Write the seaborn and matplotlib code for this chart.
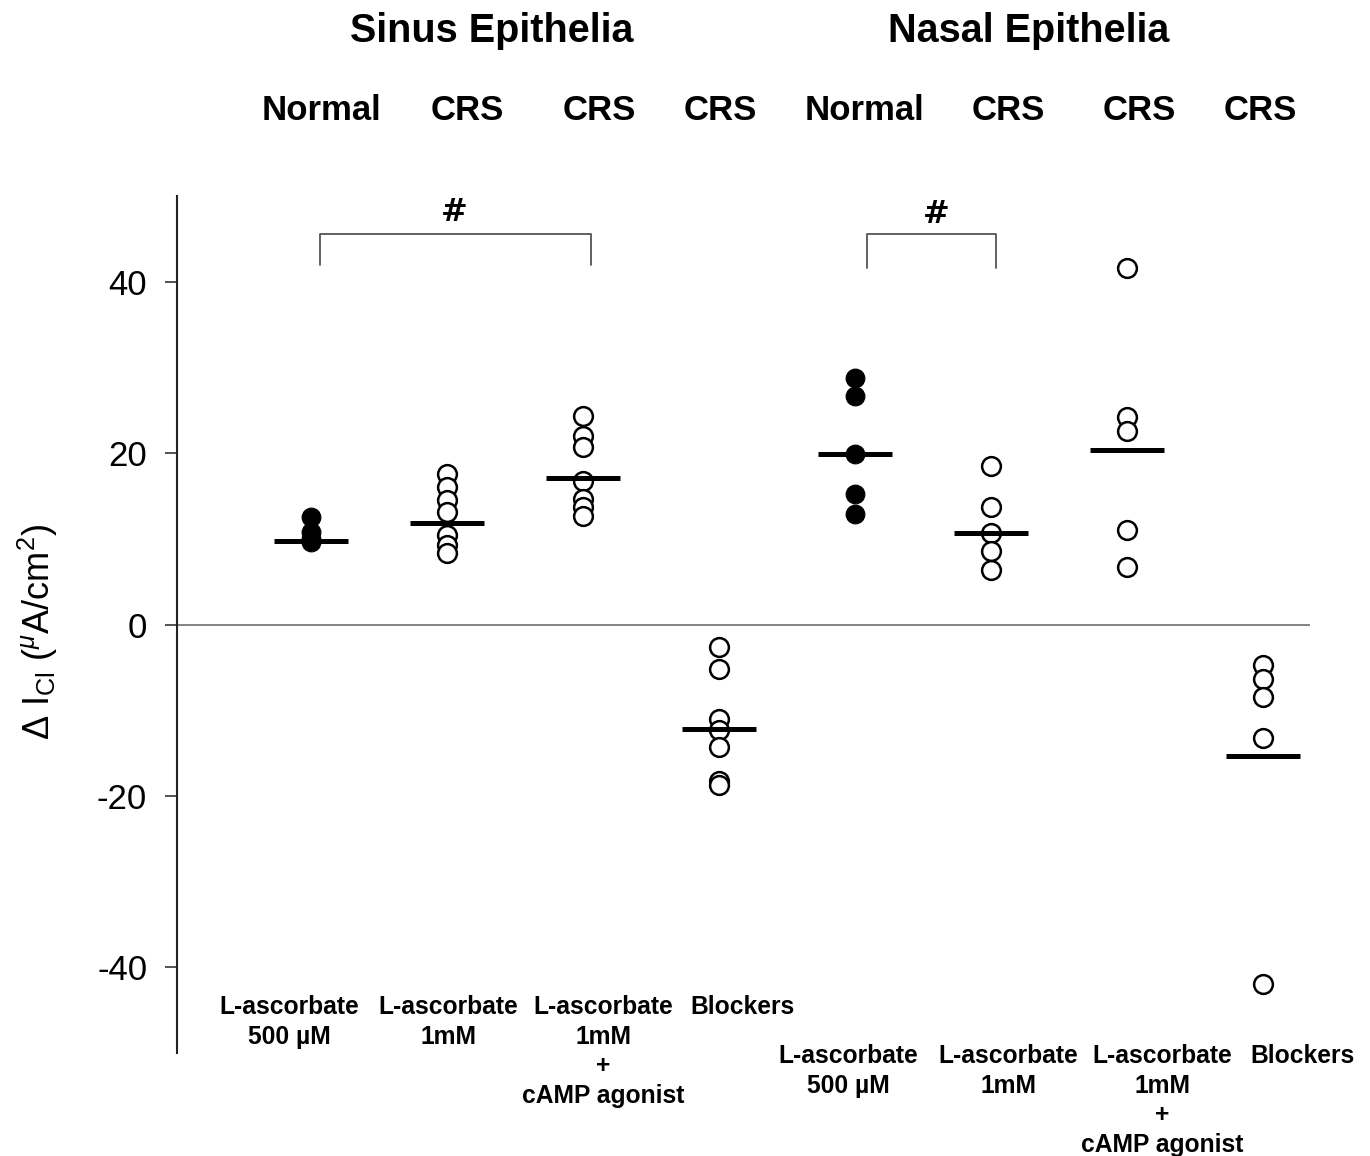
import matplotlib
matplotlib.use("Agg")
import matplotlib.pyplot as plt
import seaborn as sns
import pandas as pd
from matplotlib.transforms import blended_transform_factory

# ---------------- data ----------------
group_keys = ["S_normal_500", "S_crs_1mM", "S_crs_1mM_cAMP", "S_crs_block",
              "N_normal_500", "N_crs_1mM", "N_crs_1mM_cAMP", "N_crs_block"]

sinus_normal_500uM = [12.5, 10.8, 10.0, 9.6]
sinus_crs_1mM = [17.6, 16.0, 14.5, 13.1, 10.4, 9.3, 8.3]
sinus_crs_1mM_camp = [24.3, 22.0, 20.7, 16.8, 14.7, 13.7, 12.7]
sinus_crs_blockers = [-2.6, -5.2, -11.0, -12.3, -14.3, -18.3, -18.7]
nasal_normal_500uM = [28.8, 26.7, 19.9, 15.2, 12.9]
nasal_crs_1mM = [18.5, 13.7, 10.7, 8.6, 6.4]
nasal_crs_1mM_camp = [41.6, 24.2, 22.6, 11.0, 6.7]
nasal_crs_blockers = [-4.7, -6.4, -8.5, -13.3, -42.0]

group_means = [9.7, 11.8, 17.1, -12.2, 19.9, 10.7, 20.4, -15.3]
group_filled = [True, False, False, False, True, False, False, False]

header_labels = ["Normal", "CRS", "CRS", "CRS", "Normal", "CRS", "CRS", "CRS"]
tissue_titles = ["Sinus Epithelia", "Nasal Epithelia"]
condition_labels = ["L-ascorbate\n500 \u00b5M", "L-ascorbate\n1mM",
                    "L-ascorbate\n1mM\n+\ncAMP agonist", "Blockers",
                    "L-ascorbate\n500 \u00b5M", "L-ascorbate\n1mM",
                    "L-ascorbate\n1mM\n+\ncAMP agonist", "Blockers"]
y_ticks = [-40, -20, 0, 20, 40]

all_values = [sinus_normal_500uM, sinus_crs_1mM, sinus_crs_1mM_camp, sinus_crs_blockers,
              nasal_normal_500uM, nasal_crs_1mM, nasal_crs_1mM_camp, nasal_crs_blockers]

rows = []
for key, vals, filled in zip(group_keys, all_values, group_filled):
    for v in vals:
        rows.append({"group": key, "value": v, "filled": filled})
df = pd.DataFrame(rows)

# ---------------- style ----------------
sns.set_theme(style="white")
plt.rcParams["font.family"] = ["Liberation Sans", "DejaVu Sans"]
plt.rcParams["axes.unicode_minus"] = False
plt.rcParams["text.color"] = "black"
plt.rcParams["axes.labelcolor"] = "black"
plt.rcParams["ytick.color"] = "black"
plt.rcParams["mathtext.fontset"] = "custom"
plt.rcParams["mathtext.rm"] = "Liberation Sans"
plt.rcParams["mathtext.it"] = "Liberation Sans:italic"
plt.rcParams["mathtext.bf"] = "Liberation Sans:bold"

W, H = 1370, 1156
fig = plt.figure(figsize=(W / 100, H / 100), dpi=100)
fig.patch.set_facecolor("white")
ax = fig.add_axes([177 / W, 1 - 1053 / H, (1310 - 177) / W, (1053 - 196) / H])
ax.set_facecolor("white")

ax.axhline(0, color="#7a7a7a", lw=1.3, zorder=1)

sns.stripplot(data=df[df["filled"]], x="group", y="value", order=group_keys,
              jitter=False, color="black", size=13.5, linewidth=0.8,
              edgecolor="black", ax=ax, zorder=3)
sns.stripplot(data=df[~df["filled"]], x="group", y="value", order=group_keys,
              jitter=False, color="white", size=13.5, linewidth=1.8,
              edgecolor="black", ax=ax, zorder=3)

# mean bars
for i, m in enumerate(group_means):
    ax.hlines(m, i - 0.27, i + 0.27, color="black", lw=3.6, zorder=4)

ax.set_xlim(-0.985, 7.346)
ax.set_ylim(-50, 50)
ax.set_yticks(y_ticks)
ax.set_yticklabels([str(t) for t in y_ticks], fontsize=25, color="black")
ax.tick_params(axis="y", direction="out", length=8.5, width=1.1, pad=13,
               colors="#222222", left=True, labelcolor="black")
ax.tick_params(axis="x", bottom=False, labelbottom=False)
ax.set_xlabel("")
for s in ["top", "right", "bottom"]:
    ax.spines[s].set_visible(False)
ax.spines["left"].set_color("#222222")
ax.spines["left"].set_linewidth(1.5)

ax.set_ylabel(r"$\Delta$ I$_{\mathrm{Cl}}$ ($^{\mu}$A/cm$^{2}$)", fontsize=26, color="black")
ax.yaxis.set_label_coords(38 / W, 1 - 632 / H, transform=fig.transFigure)
ax.yaxis.label.set_verticalalignment("center")

# significance brackets
def bracket(x1, x2, y_top, y_bot):
    ax.plot([x1, x1, x2, x2], [y_bot, y_top, y_top, y_bot], color="#555555",
            lw=1.3, zorder=2, clip_on=False)

bracket(0.07, 2.06, 45.6, 42.0)
ax.text(1.05, 48.1, "#", ha="center", va="center", fontsize=23, fontweight="bold",
        family=["DejaVu Sans"], color="black")
bracket(4.09, 5.04, 45.6, 41.6)
ax.text(4.6, 47.8, "#", ha="center", va="center", fontsize=23, fontweight="bold",
        family=["DejaVu Sans"], color="black")

# header texts (x in data coords, y in figure coords)
trans = blended_transform_factory(ax.transData, fig.transFigure)
title_x = [1.33, 5.28]
for tx, t in zip(title_x, tissue_titles):
    ax.text(tx, 1 - 31 / H, t, transform=trans, ha="center", va="center",
            fontsize=28.5, fontweight="bold", color="black", clip_on=False)
header_x = [0.08, 1.15, 2.12, 3.01, 4.07, 5.13, 6.09, 6.98]
for hx, t in zip(header_x, header_labels):
    ax.text(hx, 1 - 111 / H, t, transform=trans, ha="center", va="center",
            fontsize=25, fontweight="bold", color="black", clip_on=False)

# condition labels at the bottom
label_x = [-0.16, 1.01, 2.15, 3.17, 3.95, 5.13, 6.26, 7.29]
for i, (lx, t) in enumerate(zip(label_x, condition_labels)):
    ytop = 995 if i < 4 else 1044
    ax.text(lx, 1 - ytop / H, t, transform=trans, ha="center", va="top",
            fontsize=17.7, fontweight="bold", linespacing=1.3, color="black",
            clip_on=False)

fig.savefig("out.png", dpi=100, facecolor="white")
